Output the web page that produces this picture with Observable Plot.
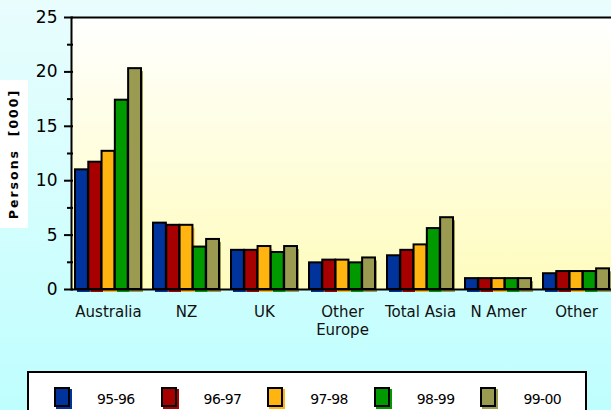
<!DOCTYPE html>
<html><head><meta charset="utf-8">
<script src="https://cdn.jsdelivr.net/npm/d3@7"></script>
<script src="https://cdn.jsdelivr.net/npm/@observablehq/plot@0.6"></script>
<style>
html,body{margin:0;padding:0}
body{width:611px;height:410px;overflow:hidden;position:relative;background:linear-gradient(to bottom,#e9fdfd 0%,#bffefe 100%);font-family:"DejaVu Sans",sans-serif}
#chart{position:absolute;left:0;top:0}
#ylabel{position:absolute;left:-60px;top:140px;width:148px;height:28px;line-height:28px;background:#fff;transform:rotate(-90deg);text-align:center;font-weight:bold;font-size:12.5px;letter-spacing:2px;color:#000;white-space:pre}
#legend{position:absolute;left:27px;top:371px;width:560px;height:50px;background:#fff;border:2px solid #000;box-sizing:border-box}
.sw{position:absolute;width:16px;height:20px;box-sizing:border-box;border:2px solid #000}
.lb{position:absolute;font-size:14px;letter-spacing:-0.6px;color:#000;line-height:16px}
</style></head><body>
<div id="chart"></div>
<div id="ylabel">Persons  [000]</div>
<div id="legend"></div>
<script>
const categories = ["Australia", "NZ", "UK", "Other\nEurope", "Total Asia", "N Amer", "Other"];
const seriesNames = ["95-96", "96-97", "97-98", "98-99", "99-00"];
const colors = ["#00339c", "#a60000", "#ffb40f", "#009a00", "#9a9a50"];
const v9596 = [11.0, 6.1, 3.6, 2.45, 3.1, 1.0, 1.45];
const v9697 = [11.7, 5.9, 3.6, 2.7, 3.6, 1.0, 1.65];
const v9798 = [12.7, 5.9, 3.95, 2.7, 4.1, 1.0, 1.65];
const v9899 = [17.4, 3.9, 3.4, 2.45, 5.6, 1.0, 1.65];
const v9900 = [20.3, 4.6, 3.95, 2.9, 6.6, 1.0, 1.9];
const yTicks = [0, 5, 10, 15, 20, 25];
const yMinorTicks = [2.5, 7.5, 12.5, 17.5, 22.5];

const valuesBySeries = [v9596, v9697, v9798, v9899, v9900];
const rows = seriesNames.flatMap((s, i) => categories.map((c, j) => ({cat: c, series: s, si: i, value: valuesBySeries[i][j]})));

const W = 611, H = 345, mL = 71, mR = -3, mT = 17, mB = 56;
const pIn = 0.15, pOut = 0.05;
const bw = d3.scaleBand(categories, [mL, W - mR]).paddingInner(pIn).paddingOuter(pOut).bandwidth();
const n = seriesNames.length;
const w = bw / n;

const chart = Plot.plot({
  width: W, height: H,
  marginLeft: mL, marginRight: mR, marginTop: mT, marginBottom: mB,
  style: {fontFamily: "DejaVu Sans", background: "transparent", overflow: "visible"},
  x: {domain: categories, paddingInner: pIn, paddingOuter: pOut, axis: null},
  y: {domain: [0, 25], axis: null},
  marks: [
    Plot.frame({fill: "url(#plotbg)", stroke: "none"}),
    ...seriesNames.map((s, i) => Plot.barY(rows.filter(d => d.si === i), {
      x: "cat", y: "value", fill: colors[i], dx: 2, dy: 3,
      insetLeft: i * w, insetRight: (n - 1 - i) * w
    })),
    ...seriesNames.map((s, i) => Plot.barY(rows.filter(d => d.si === i), {
      x: "cat", y: "value", fill: colors[i], stroke: "black", strokeWidth: 2,
      insetLeft: i * w, insetRight: (n - 1 - i) * w
    })),
    Plot.frame({stroke: "black", strokeWidth: 2}),
    Plot.axisY({ticks: yTicks, tickSize: 9, dx: 2, strokeWidth: 2, stroke: "black", fill: "none", label: null}),
    Plot.axisY({ticks: yMinorTicks, tickSize: 6, dx: 2, strokeWidth: 2, stroke: "black", fill: "none", label: null}),
    Plot.axisY({ticks: yTicks, tickSize: 0, tickPadding: 14, fontSize: 17, fill: "black", label: null}),
    Plot.axisX({tickSize: 0, tickPadding: 15, fontSize: 15, lineHeight: 1.2, fill: "#111", label: null})
  ]
});

d3.select(chart).insert("defs", ":first-child").html(
  '<linearGradient id="plotbg" x1="0" y1="0" x2="0" y2="1">' +
  '<stop offset="0" stop-color="#ffffff"/><stop offset="1" stop-color="#fefcbd"/></linearGradient>'
);
document.getElementById("chart").appendChild(chart);

const legend = d3.select("#legend");
seriesNames.forEach((s, i) => {
  legend.append("div").attr("class", "sw")
    .style("left", (25 + i * 106.5) + "px").style("top", "14px")
    .style("background", colors[i]).style("box-shadow", "2px 2px 0 " + colors[i]);
  legend.append("div").attr("class", "lb")
    .style("left", (68 + i * 106.6) + "px").style("top", "18px").text(s);
});
</script>
</body></html>
